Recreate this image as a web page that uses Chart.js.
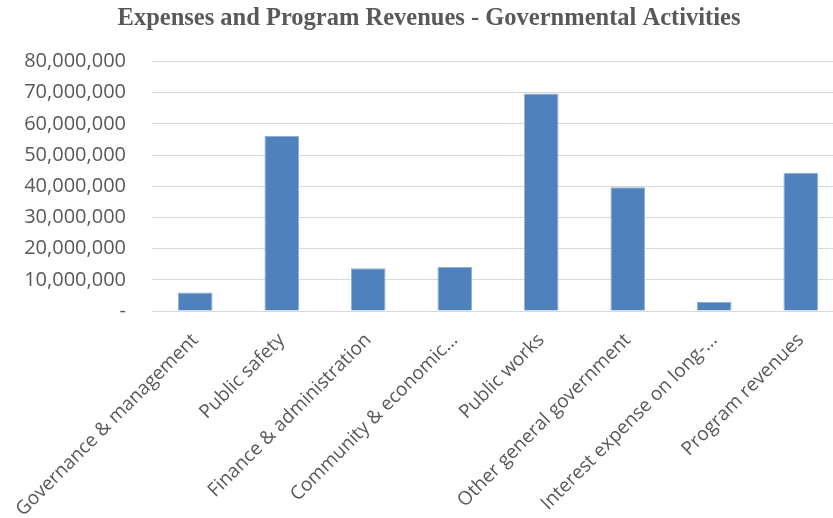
<!DOCTYPE html>
<html>
<head>
<meta charset="utf-8">
<script src="https://cdn.jsdelivr.net/npm/chart.js@4"></script>
<style>
  html, body { margin: 0; padding: 0; background: #fff; overflow: hidden; }
  #wrap { width: 858px; height: 518px; }
</style>
</head>
<body>
<div id="wrap"><canvas id="chart" width="858" height="518"></canvas></div>
<script>
// Categories (as shown, truncated the way the original chart shows them)
const categories = [
    'Governance & management',
    'Public safety',
    'Finance & administration',
    'Community & economic...',
    'Public works',
    'Other general government',
    'Interest expense on long-...',
    'Program revenues'
];

// Amounts
const amounts = [5900000, 56100000, 13700000, 14200000, 69700000, 39700000, 3000000, 44300000];

// Y axis ticks
const yMin = 0;
const yMax = 80000000;
const yStep = 10000000;

// Colors
const barBlue = '#4f81bd';
const textGray = '#595959';
const gridGray = '#d9d9d9';

const ctx = document.getElementById('chart').getContext('2d');

new Chart(ctx, {
    type: 'bar',
    data: {
        labels: categories,
        datasets: [{
            data: amounts,
            backgroundColor: barBlue,
            borderColor: '#8fb0d8',
            borderWidth: 1,
            categoryPercentage: 1,
            barPercentage: 0.4
        }]
    },
    options: {
        responsive: false,
        animation: false,
        layout: {
            padding: { top: 1, right: 14, left: 14, bottom: 0 }
        },
        plugins: {
            legend: { display: false },
            tooltip: { enabled: false },
            title: {
                display: true,
                text: 'Expenses and Program Revenues - Governmental Activities',
                color: textGray,
                font: { family: 'Liberation Serif', size: 24.5, weight: 'bold' },
                padding: { top: 3, bottom: 28 }
            }
        },
        scales: {
            x: {
                grid: { display: false, drawTicks: false },
                border: { color: gridGray, width: 1 },
                ticks: {
                    color: textGray,
                    font: { family: 'Open Sans', size: 19 },
                    minRotation: 45,
                    maxRotation: 45,
                    autoSkip: false,
                    padding: 18
                },
                afterFit: function(scale) {
                    // fixed height, and no extra side room for the rotated labels
                    scale.height = 207;
                    scale.paddingLeft = 0;
                    scale.paddingRight = 0;
                }
            },
            y: {
                min: yMin,
                max: yMax,
                grid: { color: gridGray, drawTicks: false },
                border: { display: false },
                ticks: {
                    stepSize: yStep,
                    color: textGray,
                    font: { family: 'Open Sans', size: 20 },
                    padding: 26,
                    callback: function(value) {
                        return value === 0 ? '-' : value.toLocaleString('en-US');
                    }
                },
                afterFit: function(scale) {
                    scale.width = 138;
                }
            }
        }
    }
});
</script>
</body>
</html>
